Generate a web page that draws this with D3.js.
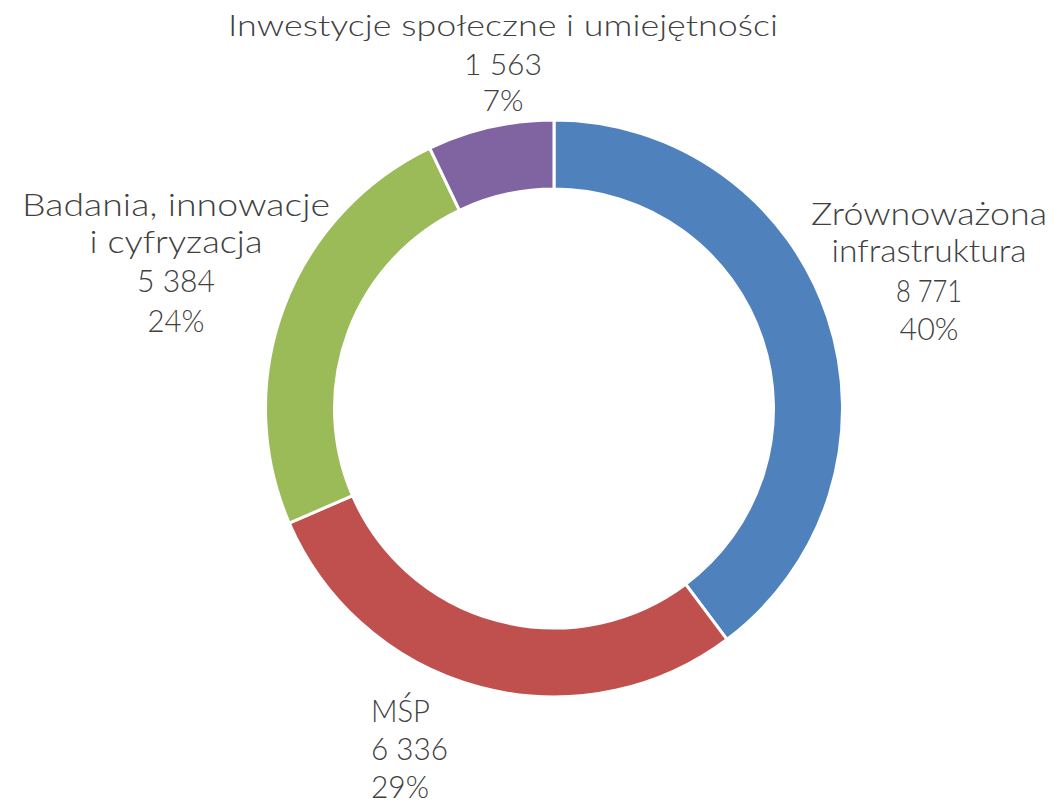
<!DOCTYPE html>
<html>
<head>
<meta charset="utf-8">
<script src="https://cdn.jsdelivr.net/npm/d3@7"></script>
<style>
  html, body { margin: 0; padding: 0; background: #fff; }
  svg { display: block; }
</style>
</head>
<body>
<div id="chart"></div>
<script>
// dane
const categories = ["Zrównoważona infrastruktura", "MŚP", "Badania, innowacje i cyfryzacja", "Inwestycje społeczne i umiejętności"];
const values = [8771, 6336, 5384, 1563];
const colors = ["#4F81BD", "#C0504D", "#9BBB59", "#8064A2"];

// linie etykiet (jak w oryginale)
const labelLines = [
    ["Zrównoważona", "infrastruktura"],
    ["MŚP"],
    ["Badania, innowacje", "i cyfryzacja"],
    ["Inwestycje społeczne i umiejętności"]
];

const width = 1053;
const height = 804;

// układ etykiet: x, y pierwszej linii bazowej, wyrównanie, rozmiar, szerokości linii
const labelLayout = [
    { x: 929, y: 225, anchor: "middle", size: 32, widths: [236, 195, 66, 59] },
    { x: 371, y: 722, anchor: "start", size: 32, widths: [59, 77, 58] },
    { x: 176, y: 216, anchor: "middle", size: 32, widths: [308, 173, 78, 57] },
    { x: 503, y: 36, anchor: "middle", size: 30, widths: [550, 78, 41] }
];
const lineHeights = [[37, 40, 38], [38, 38], [37, 39, 40], [39, 36]];

const svg = d3.select("#chart").append("svg")
    .attr("width", width)
    .attr("height", height);

const cx = 554, cy = 408.5;
const outerR = 288.5, innerR = 219.5;

const pie = d3.pie().sort(null).value(d => d);
const arc = d3.arc().innerRadius(innerR).outerRadius(outerR);

const g = svg.append("g").attr("transform", `translate(${cx},${cy})`);

g.selectAll("path")
    .data(pie(values))
    .enter()
    .append("path")
    .attr("d", arc)
    .attr("fill", (d, i) => colors[i])
    .attr("stroke", "#fff")
    .attr("stroke-width", 3);

const total = d3.sum(values);
const locale = d3.formatLocale({ decimal: ",", thousands: " ", grouping: [3], currency: ["", " zł"] });
const fmt = locale.format(",d");

categories.forEach((c, i) => {
    const lay = labelLayout[i];
    const lines = labelLines[i].concat([fmt(values[i]), Math.round(values[i] / total * 100) + "%"]);
    const text = svg.append("g");
    let y = lay.y;
    lines.forEach((ln, j) => {
        if (j > 0) y += lineHeights[i][j - 1];
        text.append("text")
            .attr("x", lay.x)
            .attr("y", y)
            .attr("text-anchor", lay.anchor)
            .attr("font-family", "Lato, 'Open Sans', sans-serif")
            .attr("font-weight", 300)
            .attr("font-size", lay.size)
            .attr("fill", "#404040")
            .attr("textLength", lay.widths[j])
            .attr("lengthAdjust", "spacingAndGlyphs")
            .text(ln);
    });
});
</script>
</body>
</html>
